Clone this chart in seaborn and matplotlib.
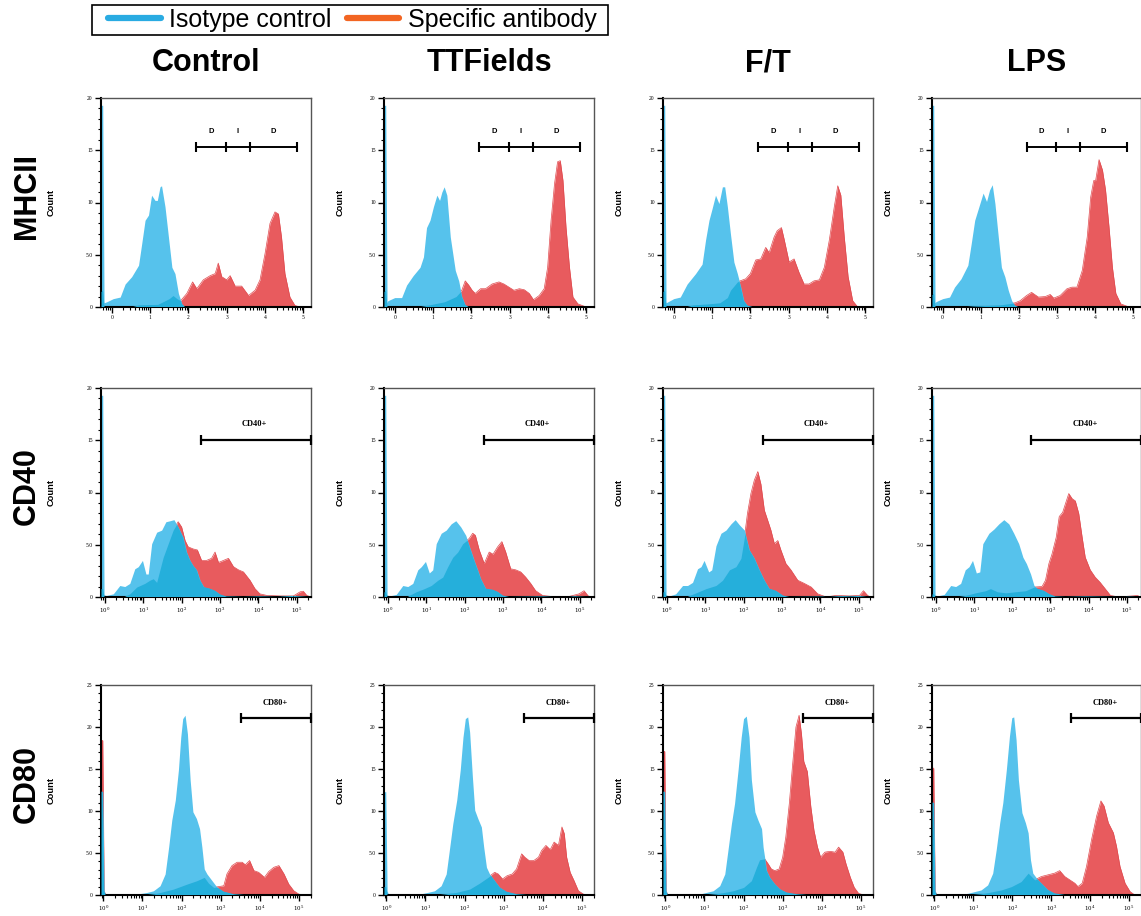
import math
import matplotlib
matplotlib.use("Agg")
import matplotlib.pyplot as plt
import seaborn as sns
from matplotlib.lines import Line2D
from matplotlib.patches import Rectangle
from matplotlib.ticker import MultipleLocator, LogLocator, FuncFormatter, NullFormatter

# ---- data: (log10 intensity, count) ----
rows = ["MHCII", "CD40", "CD80"]
conditions = ["Control", "TTFields", "F/T", "LPS"]

mhcii_control_iso = [(-0.28, 19.3), (-0.235, 19.3), (-0.2, 0.4), (-0.13, 0.5), (0.04, 0.8), (0.22, 0.95), (0.35, 2.2), (0.52, 2.9), (0.7, 4.0), (0.78, 6.0), (0.87, 8.3), (0.96, 8.8), (1.04, 10.7), (1.13, 10.2), (1.19, 10.2), (1.26, 11.5), (1.3, 11.6), (1.39, 9.6), (1.48, 6.7), (1.57, 3.8), (1.65, 3.2), (1.74, 1.3), (1.83, 0.3), (1.91, 0)]
mhcii_control_spec = [(-0.28, 1.5), (-0.235, 1.5), (-0.2, 0), (0.5, 0), (0.7, 0.2), (1.2, 0.25), (1.5, 0.8), (1.6, 1.1), (1.7, 0.8), (1.8, 0.6), (1.96, 1.3), (2.11, 2.4), (2.22, 1.75), (2.39, 2.6), (2.57, 3.0), (2.7, 3.2), (2.78, 4.2), (2.87, 2.9), (3.0, 2.6), (3.09, 3.0), (3.22, 2.0), (3.39, 2.0), (3.57, 1.1), (3.74, 1.6), (3.87, 2.6), (4.0, 5.1), (4.13, 8.0), (4.26, 9.1), (4.35, 8.9), (4.43, 6.7), (4.52, 3.2), (4.65, 0.95), (4.78, 0.15), (4.91, 0)]
mhcii_ttf_iso = [(-0.28, 19.3), (-0.235, 19.3), (-0.2, 0.4), (-0.18, 0.6), (0, 0.9), (0.18, 0.9), (0.31, 2.1), (0.48, 3.0), (0.66, 3.8), (0.75, 4.8), (0.83, 7.6), (0.92, 8.3), (1.01, 9.6), (1.1, 10.7), (1.17, 10.2), (1.23, 11.0), (1.29, 11.5), (1.36, 10.7), (1.45, 6.7), (1.58, 3.5), (1.67, 2.5), (1.75, 1.0), (1.84, 0.2), (1.93, 0)]
mhcii_ttf_spec = [(-0.28, 1.5), (-0.235, 1.5), (-0.2, 0), (0.6, 0), (0.9, 0.2), (1.3, 0.5), (1.6, 1.0), (1.75, 1.6), (1.84, 2.5), (1.93, 2.1), (2.02, 1.6), (2.1, 1.3), (2.24, 1.75), (2.37, 1.75), (2.54, 2.2), (2.72, 2.4), (2.85, 2.2), (2.98, 1.9), (3.11, 1.6), (3.25, 1.75), (3.38, 1.65), (3.51, 1.3), (3.62, 0.7), (3.77, 1.1), (3.9, 1.75), (3.99, 3.8), (4.08, 8.3), (4.17, 11.8), (4.25, 13.9), (4.32, 14.0), (4.39, 12.1), (4.47, 7.6), (4.56, 3.8), (4.65, 0.95), (4.78, 0.3), (4.96, 0.05), (5.05, 0)]
mhcii_ft_iso = [(-0.28, 19.3), (-0.235, 19.3), (-0.2, 0.4), (-0.15, 0.5), (0, 0.8), (0.17, 0.95), (0.35, 2.2), (0.57, 3.2), (0.74, 4.1), (0.83, 6.4), (0.92, 8.3), (1.0, 9.4), (1.09, 10.7), (1.18, 9.9), (1.27, 11.5), (1.33, 11.5), (1.4, 9.6), (1.48, 7.0), (1.57, 4.3), (1.66, 3.2), (1.75, 1.9), (1.83, 0.6), (1.92, 0.15), (2.05, 0)]
mhcii_ft_spec = [(-0.28, 1.5), (-0.235, 1.5), (-0.2, 0), (0.3, 0), (0.5, 0.2), (0.9, 0.3), (1.2, 0.4), (1.4, 0.9), (1.48, 1.6), (1.66, 2.4), (1.88, 2.7), (2.0, 3.2), (2.14, 4.5), (2.27, 4.6), (2.4, 5.7), (2.49, 5.2), (2.62, 6.7), (2.7, 7.3), (2.81, 7.6), (2.88, 6.5), (3.01, 4.3), (3.14, 4.6), (3.27, 3.3), (3.4, 2.2), (3.53, 2.2), (3.66, 2.5), (3.8, 2.6), (3.93, 3.8), (4.06, 6.4), (4.19, 9.6), (4.28, 11.6), (4.36, 10.7), (4.45, 6.7), (4.55, 2.9), (4.67, 0.6), (4.8, 0)]
mhcii_lps_iso = [(-0.28, 19.3), (-0.235, 19.3), (-0.2, 0.4), (-0.18, 0.5), (0, 0.8), (0.18, 0.95), (0.31, 1.9), (0.48, 2.7), (0.66, 4.0), (0.75, 6.1), (0.84, 8.3), (0.95, 9.6), (1.06, 10.9), (1.15, 10.1), (1.23, 11.2), (1.3, 11.7), (1.37, 9.9), (1.45, 7.0), (1.54, 3.8), (1.63, 2.9), (1.72, 1.6), (1.81, 0.6), (1.89, 0.15), (1.98, 0)]
mhcii_lps_spec = [(-0.28, 1.2), (-0.235, 1.2), (-0.2, 0), (0.5, 0), (0.8, 0.1), (1.5, 0.2), (1.9, 0.4), (2.03, 0.6), (2.2, 1.1), (2.33, 1.4), (2.51, 0.95), (2.69, 1.0), (2.82, 1.2), (2.91, 0.85), (3.08, 1.1), (3.26, 1.75), (3.39, 1.9), (3.52, 1.9), (3.66, 3.5), (3.79, 6.7), (3.88, 10.5), (3.96, 12.1), (4.01, 12.1), (4.1, 14.1), (4.19, 13.1), (4.27, 11.2), (4.36, 7.7), (4.45, 3.8), (4.54, 1.3), (4.67, 0.3), (4.85, 0.05), (5.1, 0)]

cd40_control_iso = [(-0.1, 19.3), (-0.055, 19.3), (-0.02, 0.2), (0.04, 0.15), (0.22, 0.3), (0.39, 1.1), (0.52, 1.0), (0.65, 1.3), (0.78, 2.7), (0.87, 2.9), (0.98, 3.5), (1.07, 2.2), (1.13, 2.2), (1.22, 5.1), (1.35, 6.2), (1.48, 6.4), (1.59, 7.2), (1.7, 7.3), (1.8, 7.4), (1.91, 6.7), (2.04, 5.7), (2.13, 4.3), (2.22, 3.5), (2.3, 3.0), (2.39, 2.6), (2.48, 1.6), (2.58, 0.95), (2.74, 0.8), (2.87, 0.6), (3.0, 0.25), (3.17, 0.05), (3.6, 0), (4.04, 0.05), (4.48, 0), (4.91, 0.1), (5.26, 0)]
cd40_control_spec = [(-0.1, 0.8), (-0.055, 0.8), (-0.02, 0), (0.48, 0), (0.65, 0.3), (0.83, 0.95), (1.04, 1.3), (1.17, 1.6), (1.26, 1.75), (1.35, 1.4), (1.52, 3.8), (1.65, 5.1), (1.78, 6.4), (1.91, 7.2), (2.0, 6.7), (2.09, 5.4), (2.17, 4.8), (2.3, 4.6), (2.41, 4.5), (2.52, 3.5), (2.65, 3.5), (2.78, 3.7), (2.87, 4.3), (2.96, 3.3), (3.09, 3.5), (3.22, 3.7), (3.35, 2.9), (3.48, 2.6), (3.61, 2.4), (3.78, 1.6), (3.91, 0.8), (4.04, 0.3), (4.22, 0.15), (4.57, 0.1), (4.91, 0.1), (5.09, 0.5), (5.17, 0.55), (5.26, 0.15), (5.37, 0)]
cd40_ttf_iso = [(-0.1, 19.3), (-0.055, 19.3), (-0.02, 0.2), (0.04, 0.1), (0.22, 0.25), (0.39, 1.1), (0.52, 1.0), (0.65, 1.3), (0.78, 2.6), (0.87, 2.9), (0.98, 3.4), (1.08, 2.3), (1.17, 2.6), (1.26, 5.1), (1.39, 6.1), (1.52, 6.4), (1.65, 7.0), (1.77, 7.3), (1.9, 6.7), (2.03, 5.9), (2.12, 4.9), (2.25, 3.5), (2.34, 2.6), (2.42, 1.75), (2.55, 0.8), (2.73, 0.7), (2.86, 0.5), (2.99, 0.15), (3.16, 0), (4.03, 0.05), (4.55, 0.05), (4.89, 0.05), (5.15, 0)]
cd40_ttf_spec = [(-0.1, 0.5), (-0.055, 0.5), (-0.02, 0), (0.48, 0), (0.74, 0.5), (0.95, 0.8), (1.13, 1.1), (1.3, 1.6), (1.43, 1.9), (1.56, 2.9), (1.69, 3.8), (1.82, 4.3), (1.95, 5.1), (2.12, 5.6), (2.21, 6.1), (2.28, 5.9), (2.38, 4.5), (2.51, 3.2), (2.64, 4.3), (2.74, 4.1), (2.86, 4.8), (2.97, 5.3), (3.07, 4.3), (3.2, 2.7), (3.33, 2.6), (3.46, 2.4), (3.59, 1.9), (3.72, 1.3), (3.85, 0.6), (4.03, 0.15), (4.37, 0), (4.72, 0.05), (4.98, 0.3), (5.11, 0.6), (5.22, 0.1), (5.3, 0)]
cd40_ft_iso = [(-0.1, 19.3), (-0.055, 19.3), (-0.02, 0.2), (0.06, 0.1), (0.23, 0.3), (0.41, 1.1), (0.54, 1.1), (0.67, 1.4), (0.8, 2.7), (0.89, 2.9), (0.97, 3.5), (1.09, 2.4), (1.17, 2.6), (1.28, 4.9), (1.41, 6.1), (1.54, 6.4), (1.67, 7.0), (1.78, 7.4), (1.89, 6.9), (2.02, 6.4), (2.15, 4.5), (2.28, 3.7), (2.41, 2.6), (2.54, 1.6), (2.67, 0.8), (2.84, 0.6), (3.02, 0.15), (3.19, 0), (4.41, 0.05), (4.84, 0.15), (5.1, 0.05), (5.2, 0)]
cd40_ft_spec = [(-0.1, 0.5), (-0.055, 0.5), (-0.02, 0), (0.5, 0), (0.76, 0.4), (1.02, 0.8), (1.28, 1.1), (1.45, 1.6), (1.63, 2.6), (1.8, 2.9), (1.93, 3.7), (2.02, 5.7), (2.1, 8.0), (2.19, 9.9), (2.28, 11.2), (2.37, 12.0), (2.45, 10.8), (2.54, 8.3), (2.63, 7.3), (2.71, 6.4), (2.8, 5.1), (2.89, 5.4), (2.97, 4.5), (3.1, 3.2), (3.23, 2.6), (3.41, 1.6), (3.58, 1.3), (3.76, 0.95), (3.93, 0.3), (4.15, 0), (4.41, 0.15), (4.76, 0.1), (5.02, 0.15), (5.12, 0.6), (5.23, 0.15), (5.3, 0)]
cd40_lps_iso = [(-0.1, 19.3), (-0.055, 19.3), (-0.02, 0.2), (0.04, 0.1), (0.22, 0.25), (0.39, 1.1), (0.52, 1.0), (0.65, 1.3), (0.77, 2.6), (0.87, 2.9), (0.96, 3.5), (1.06, 2.3), (1.15, 2.4), (1.23, 5.1), (1.39, 6.1), (1.52, 6.5), (1.65, 7.0), (1.78, 7.4), (1.91, 7.0), (2.04, 6.1), (2.17, 5.1), (2.28, 3.8), (2.37, 3.2), (2.48, 2.2), (2.57, 1.1), (2.65, 0.8), (2.83, 0.6), (2.96, 0.3), (3.13, 0.05), (3.39, 0), (3.91, 0.05), (4.61, 0), (4.96, 0.1), (5.22, 0)]
cd40_lps_spec = [(-0.1, 0.3), (-0.055, 0.3), (-0.02, 0), (0.52, 0), (0.78, 0.15), (1.04, 0.4), (1.3, 0.6), (1.43, 0.8), (1.61, 0.5), (1.83, 0.4), (2.09, 0.5), (2.35, 0.6), (2.57, 0.95), (2.78, 1.0), (2.87, 1.6), (2.96, 3.2), (3.04, 4.1), (3.15, 5.7), (3.23, 7.7), (3.32, 8.1), (3.39, 8.9), (3.48, 9.9), (3.57, 9.4), (3.65, 9.2), (3.74, 8.0), (3.83, 5.7), (3.91, 3.8), (4.04, 2.6), (4.17, 1.9), (4.3, 1.4), (4.43, 0.8), (4.57, 0.15), (4.78, 0), (5.13, 0.1), (5.3, 0.15)]

cd80_control_iso = [(-0.06, 12.3), (-0.015, 12.3), (0.02, 0.5), (0.06, 0), (0.6, 0), (0.85, 0.1), (1.11, 0.3), (1.28, 0.5), (1.45, 1.1), (1.58, 2.5), (1.67, 5.7), (1.75, 8.9), (1.84, 11.3), (1.92, 14.9), (1.98, 18.8), (2.03, 21.0), (2.09, 21.4), (2.15, 19.2), (2.22, 13.7), (2.29, 9.9), (2.38, 9.1), (2.46, 7.9), (2.52, 5.7), (2.58, 3.1), (2.65, 2.5), (2.78, 1.7), (2.91, 0.9), (3.08, 0.4), (3.33, 0.1), (3.59, 0)]
cd80_control_spec = [(-0.06, 18.4), (-0.015, 18.4), (0.02, 0.5), (0.06, 0), (1.03, 0), (1.37, 0.2), (1.79, 0.7), (2.14, 1.3), (2.39, 1.7), (2.58, 2.1), (2.69, 1.4), (2.82, 0.9), (2.95, 1.0), (3.08, 1.1), (3.16, 2.5), (3.29, 3.5), (3.42, 3.9), (3.55, 3.9), (3.63, 3.6), (3.74, 4.1), (3.85, 2.9), (3.97, 2.7), (4.12, 2.1), (4.23, 2.8), (4.36, 3.3), (4.49, 3.5), (4.62, 2.5), (4.74, 1.3), (4.87, 0.5), (5.0, 0.1), (5.13, 0)]
cd80_ttf_iso = [(-0.06, 12.3), (-0.015, 12.3), (0.02, 0.5), (0.06, 0), (0.58, 0), (0.84, 0.1), (1.05, 0.3), (1.23, 0.5), (1.4, 1.1), (1.53, 2.5), (1.61, 5.3), (1.7, 8.5), (1.8, 11.3), (1.89, 14.9), (1.96, 18.8), (2.02, 21.0), (2.08, 21.2), (2.13, 19.4), (2.2, 14.1), (2.26, 10.1), (2.34, 9.1), (2.43, 8.1), (2.49, 5.7), (2.56, 3.3), (2.64, 2.5), (2.77, 1.7), (2.9, 0.9), (3.07, 0.4), (3.33, 0.1), (3.58, 0)]
cd80_ttf_spec = [(-0.06, 1.0), (-0.015, 1.0), (0.02, 0), (1.27, 0), (1.78, 0.3), (2.13, 0.7), (2.38, 1.4), (2.6, 2.1), (2.77, 2.7), (2.86, 2.5), (2.97, 1.9), (3.09, 2.3), (3.22, 2.5), (3.33, 3.1), (3.46, 4.9), (3.54, 4.5), (3.65, 4.1), (3.77, 4.1), (3.89, 4.5), (3.97, 5.3), (4.08, 5.9), (4.19, 5.4), (4.29, 6.3), (4.4, 5.9), (4.49, 8.1), (4.55, 7.3), (4.61, 4.5), (4.7, 2.7), (4.8, 1.7), (4.91, 0.5), (5.04, 0.1), (5.17, 0)]
cd80_ft_iso = [(-0.06, 12.3), (-0.015, 12.3), (0.02, 0.5), (0.06, 0), (0.57, 0), (0.87, 0.1), (1.04, 0.3), (1.22, 0.5), (1.39, 1.1), (1.52, 2.5), (1.6, 5.3), (1.69, 8.5), (1.77, 10.9), (1.86, 14.9), (1.94, 18.8), (2.0, 21.0), (2.07, 21.3), (2.14, 18.8), (2.2, 13.7), (2.29, 9.9), (2.37, 8.9), (2.46, 7.9), (2.5, 5.7), (2.59, 2.9), (2.67, 2.1), (2.8, 1.3), (2.93, 0.7), (3.1, 0.3), (3.36, 0.1), (3.61, 0)]
cd80_ft_spec = [(-0.06, 17.1), (-0.015, 17.1), (0.02, 0.5), (0.06, 0), (0.96, 0), (1.39, 0.2), (1.73, 0.5), (2.0, 0.9), (2.2, 1.7), (2.33, 3.3), (2.41, 4.2), (2.54, 4.3), (2.63, 3.7), (2.71, 3.1), (2.8, 2.9), (2.91, 3.1), (3.0, 4.5), (3.08, 6.9), (3.17, 10.9), (3.25, 15.3), (3.34, 20.0), (3.42, 21.4), (3.48, 19.2), (3.54, 15.9), (3.63, 14.7), (3.72, 10.5), (3.8, 7.7), (3.89, 5.7), (3.97, 4.5), (4.08, 5.1), (4.21, 5.2), (4.34, 5.1), (4.43, 5.7), (4.54, 5.1), (4.62, 3.7), (4.73, 2.1), (4.83, 0.9), (4.94, 0.2), (5.07, 0)]
cd80_lps_iso = [(-0.06, 11.0), (-0.015, 11.0), (0.02, 0.5), (0.06, 0), (0.56, 0), (0.86, 0.2), (1.03, 0.4), (1.2, 0.6), (1.37, 1.2), (1.5, 2.6), (1.59, 5.4), (1.68, 8.6), (1.76, 11.0), (1.85, 14.9), (1.93, 18.9), (1.99, 21.1), (2.04, 21.2), (2.1, 18.5), (2.16, 13.7), (2.25, 9.8), (2.34, 8.6), (2.41, 7.4), (2.47, 4.2), (2.53, 2.6), (2.66, 1.8), (2.79, 1.2), (2.92, 0.6), (3.09, 0.2), (3.35, 0)]
cd80_lps_spec = [(-0.06, 15.1), (-0.015, 15.1), (0.02, 0.5), (0.06, 0), (0.86, 0), (1.29, 0.2), (1.72, 0.6), (1.98, 1.0), (2.23, 1.6), (2.41, 2.6), (2.58, 1.8), (2.75, 2.2), (2.92, 2.4), (3.09, 2.6), (3.22, 2.9), (3.35, 2.2), (3.48, 1.8), (3.61, 1.4), (3.69, 1.0), (3.8, 1.4), (3.91, 3.4), (4.04, 6.6), (4.17, 9.4), (4.28, 11.2), (4.36, 10.6), (4.47, 8.6), (4.6, 7.4), (4.68, 5.8), (4.77, 3.4), (4.9, 1.4), (5.03, 0.4), (5.15, 0)]

curves = {
    "MHCII": [(mhcii_control_iso, mhcii_control_spec), (mhcii_ttf_iso, mhcii_ttf_spec),
              (mhcii_ft_iso, mhcii_ft_spec), (mhcii_lps_iso, mhcii_lps_spec)],
    "CD40": [(cd40_control_iso, cd40_control_spec), (cd40_ttf_iso, cd40_ttf_spec),
             (cd40_ft_iso, cd40_ft_spec), (cd40_lps_iso, cd40_lps_spec)],
    "CD80": [(cd80_control_iso, cd80_control_spec), (cd80_ttf_iso, cd80_ttf_spec),
             (cd80_ft_iso, cd80_ft_spec), (cd80_lps_iso, cd80_lps_spec)],
}

# gates (log10 bounds) and their labels
mhcii_gate = [2.2, 2.97, 3.6, 4.83]
mhcii_gate_labels = ["D", "I", "D"]
cd40_gate = [2.5, 5.37]
cd80_gate = [3.52, 5.31]

# ---- style ----
sns.set_theme(style="ticks")
plt.rcParams["font.family"] = ["Liberation Sans", "DejaVu Sans"]
plt.rcParams["mathtext.fontset"] = "dejavuserif"
plt.rcParams["text.color"] = "black"

CYAN = "#56c2ec"
RED = "#e85b5e"
DARK = "#25afdb"
LEG_BLUE = "#29abe2"
LEG_ORANGE = "#f26522"

W, H = 1141, 916
fig = plt.figure(figsize=(W / 100, H / 100), dpi=100)

col_left = [101, 384, 663, 932]
col_width = [210, 210, 210, 209]
row_top = [98, 388, 685]
row_height = [209, 209, 210]
row_xlim = [(-0.28, 5.2), (-0.1, 5.37), (-0.06, 5.31)]
row_ymax = [20, 20, 25]
count_off = [50, 44, 44, 44]


def log_label(v, pos, plain):
    e = int(round(math.log10(v)))
    return f"{e}" if plain else r"$10^{%d}$" % e


for r, row in enumerate(rows):
    for c, cond in enumerate(conditions):
        l, t, w, h = col_left[c], row_top[r], col_width[c], row_height[r]
        ax = fig.add_axes([l / W, 1 - (t + h) / H, w / W, h / H])
        iso, spec = curves[row][c]
        ix = [10 ** p[0] for p in iso]
        iy = [p[1] for p in iso]
        sx = [10 ** p[0] for p in spec]
        sy = [p[1] for p in spec]

        ax.fill_between(sx, sy, 0, color=RED, lw=0, zorder=1)
        sns.lineplot(x=sx, y=sy, ax=ax, color="#e04a4f", lw=0.5, estimator=None, sort=False, zorder=1.5)
        blue = ax.fill_between(ix, iy, 0, color=CYAN, lw=0, zorder=2)
        dark = ax.fill_between(sx, sy, 0, color=DARK, lw=0, zorder=3)
        dark.set_clip_path(blue.get_paths()[0], ax.transData)

        ax.set_xscale("log")
        ax.set_xlim(10 ** row_xlim[r][0], 10 ** row_xlim[r][1])
        ax.set_ylim(0, row_ymax[r])

        ax.xaxis.set_major_locator(LogLocator(base=10, numticks=10))
        ax.xaxis.set_minor_locator(LogLocator(base=10, subs=range(2, 10), numticks=10))
        ax.xaxis.set_minor_formatter(NullFormatter())
        ax.xaxis.set_major_formatter(FuncFormatter(lambda v, p, pl=(r == 0): log_label(v, p, pl)))
        ax.yaxis.set_major_locator(MultipleLocator(5))
        ax.yaxis.set_minor_locator(MultipleLocator(1))
        ax.yaxis.set_major_formatter(FuncFormatter(lambda v, p: "5.0" if v == 5 else f"{v:.0f}"))

        ax.tick_params(which="major", direction="out", length=4, width=1, pad=2,
                       labelsize=4, colors="black")
        ax.tick_params(which="minor", direction="out", length=2, width=0.8, colors="black")
        for lab in ax.get_xticklabels() + ax.get_yticklabels():
            lab.set_family("Liberation Serif")
        for side in ["left", "bottom"]:
            ax.spines[side].set_linewidth(1.5)
            ax.spines[side].set_color("black")
        for side in ["top", "right"]:
            ax.spines[side].set_linewidth(1.0)
            ax.spines[side].set_color("#555555")
        ax.set_xlabel("")
        ax.set_ylabel("")

        # gates
        if row == "MHCII":
            g = mhcii_gate
            gy = 15.3
            ax.plot([10 ** g[0], 10 ** g[-1]], [gy, gy], color="black", lw=1.4, zorder=5)
            ax.plot([10 ** v for v in g], [gy] * len(g), ls="none", marker="|",
                    ms=7, mew=1.5, color="black", zorder=5, clip_on=False)
            for k, lab in enumerate(mhcii_gate_labels):
                mid = 10 ** ((g[k] + g[k + 1]) / 2)
                ax.text(mid, 16.8, lab, ha="center", va="center", fontsize=5.5,
                        fontweight="bold", color="black")
        else:
            g = cd40_gate if row == "CD40" else cd80_gate
            gy = 15.0 if row == "CD40" else 21.1
            ly = 16.6 if row == "CD40" else 22.9
            ax.plot([10 ** g[0], 10 ** g[1]], [gy, gy], color="black", lw=1.6,
                    zorder=5, clip_on=False)
            ax.plot([10 ** v for v in g], [gy, gy], ls="none", marker="|", ms=7,
                    mew=1.6, color="black", zorder=5, clip_on=False)
            mid = 10 ** (3.9 if row == "CD40" else 4.4)
            ax.text(mid, ly, row + "+", ha="center", va="center", fontsize=6,
                    fontweight="bold", family="Liberation Serif", color="black")

        # Count label
        fig.text((l - count_off[c]) / W, 1 - (t + h / 2) / H, "Count", rotation=90,
                 ha="center", va="center", fontsize=6.7, fontweight="bold")

        if r == 0:
            fig.text((l + w / 2) / W, 1 - 63 / H, cond, ha="center", va="center",
                     fontsize=22, fontweight="bold")
    fig.text(27 / W, 1 - (row_top[r] + row_height[r] / 2 - 6) / H, row, rotation=90,
             ha="center", va="center", fontsize=22, fontweight="bold")

# legend box at the top
fig.patches.append(Rectangle((92 / W, 1 - 35 / H), 516 / W, 30 / H, fill=False,
                             ec="black", lw=1.2, transform=fig.transFigure))
handles = [Line2D([], [], color=LEG_BLUE, lw=4.5), Line2D([], [], color=LEG_ORANGE, lw=4.5)]
fig.legend(handles, ["Isotype control", "Specific antibody"], loc="center left",
           bbox_to_anchor=(108 / W, 1 - 20 / H), ncol=2, frameon=False,
           fontsize=18, handlelength=2.1, handletextpad=0.35, columnspacing=0.6,
           borderpad=0, borderaxespad=0)

fig.savefig("out.png", dpi=100)
